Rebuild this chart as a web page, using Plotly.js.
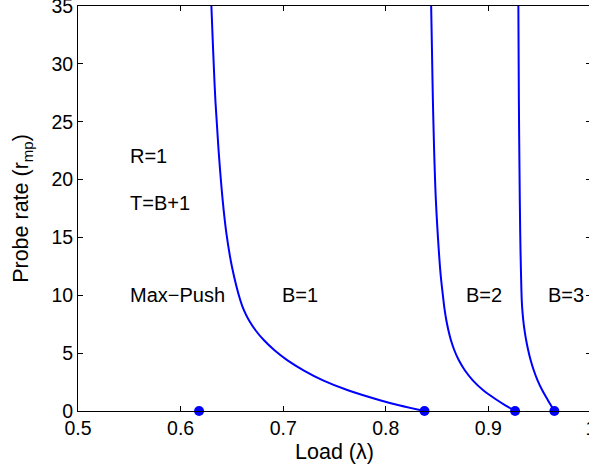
<!DOCTYPE html>
<html>
<head>
<meta charset="utf-8">
<script src="https://cdn.plot.ly/plotly-3.0.1.min.js"></script>
<style>
html,body{margin:0;padding:0;overflow:hidden;background:#fff;}
#plot{width:600px;height:470px;}
</style>
</head>
<body>
<div id="plot"></div>
<script>
// B=1 curve
var b1x = [0.6300, 0.6317, 0.6339, 0.6370, 0.6410, 0.6446, 0.6501, 0.6582, 0.6617, 0.6666, 0.6730, 0.6813, 0.6915, 0.7042, 0.7198, 0.7388, 0.7631, 0.7943, 0.8128, 0.8377];
var b1y = [35, 31.19, 26.87, 22.55, 18.22, 15.37, 12.45, 9.57, 8.71, 7.84, 6.98, 6.11, 5.25, 4.38, 3.52, 2.65, 1.79, 0.93, 0.49, 0];
// B=2 curve
var b2x = [0.8442, 0.8450, 0.8459, 0.8471, 0.8488, 0.8515, 0.8535, 0.8562, 0.8574, 0.8590, 0.8610, 0.8635, 0.8668, 0.8712, 0.8770, 0.8848, 0.8950, 0.9087, 0.9165, 0.9260];
var b2y = [35, 31.19, 26.87, 22.55, 18.22, 14.07, 11.74, 9.57, 8.71, 7.84, 6.98, 6.11, 5.25, 4.38, 3.52, 2.65, 1.79, 0.93, 0.49, 0];
// B=3 curve
var b3x = [0.9292, 0.9297, 0.9306, 0.9313, 0.9325, 0.9331, 0.9340, 0.9352, 0.9368, 0.9388, 0.9412, 0.9442, 0.9479, 0.9525, 0.9580, 0.9643];
var b3y = [35, 26.87, 18.22, 13.90, 9.57, 8.71, 7.84, 6.98, 6.11, 5.25, 4.38, 3.52, 2.65, 1.79, 0.93, 0];
// end points on the load axis
var dotX = [0.618, 0.8377, 0.926, 0.9643];
var dotY = [0, 0, 0, 0];
// text labels
var labelText = ['R=1', 'T=B+1', 'Max\u2212Push', 'B=1', 'B=2', 'B=3'];
var labelX = [0.549, 0.549, 0.549, 0.697, 0.876, 0.956];
var labelY = [22, 18, 10, 10, 10, 10];

var blue = 'rgb(0,0,255)';
var lineStyle = {color: blue, width: 2, shape: 'spline', smoothing: 1};
var traces = [
  {x: b1x, y: b1y, mode: 'lines', line: lineStyle, hoverinfo: 'skip'},
  {x: b2x, y: b2y, mode: 'lines', line: lineStyle, hoverinfo: 'skip'},
  {x: b3x, y: b3y, mode: 'lines', line: lineStyle, hoverinfo: 'skip'},
  {x: dotX, y: dotY, mode: 'markers', marker: {color: blue, size: 10}, cliponaxis: false, hoverinfo: 'skip'}
];

var font = {family: 'Liberation Sans, Arial, sans-serif', size: 19.5, color: '#000'};
var titleFont = {family: 'Liberation Sans, Arial, sans-serif', size: 21.5, color: '#000'};
var annFont = {family: 'Liberation Sans, Arial, sans-serif', size: 20, color: '#000'};
var annotations = labelText.map(function(t, i){
  return {text: t, x: labelX[i], y: labelY[i], xref: 'x', yref: 'y', xanchor: 'left', yanchor: 'middle', showarrow: false, font: annFont};
});

var axisCommon = {
  showline: true, linecolor: '#000', linewidth: 1, mirror: 'allticks',
  ticks: 'inside', ticklen: 5, tickcolor: '#000', tickwidth: 1,
  showgrid: false, zeroline: false, tickfont: font, ticklabeloverflow: 'allow'
};

var layout = {
  width: 600, height: 470,
  margin: {l: 77.5, r: 9, t: 6, b: 59.3},
  paper_bgcolor: '#fff', plot_bgcolor: '#fff',
  showlegend: false,
  font: font,
  xaxis: Object.assign({}, axisCommon, {range: [0.5, 1.0], tick0: 0.5, dtick: 0.1,
    title: {text: 'Load (\u03bb)', font: titleFont, standoff: 5}}),
  yaxis: Object.assign({}, axisCommon, {range: [0, 35], tick0: 0, dtick: 5,
    title: {text: 'Probe rate (r<sub>mp</sub>)', font: titleFont, standoff: 16}}),
  annotations: annotations
};

Plotly.newPlot('plot', traces, layout, {staticPlot: true, displayModeBar: false});
</script>
</body>
</html>
